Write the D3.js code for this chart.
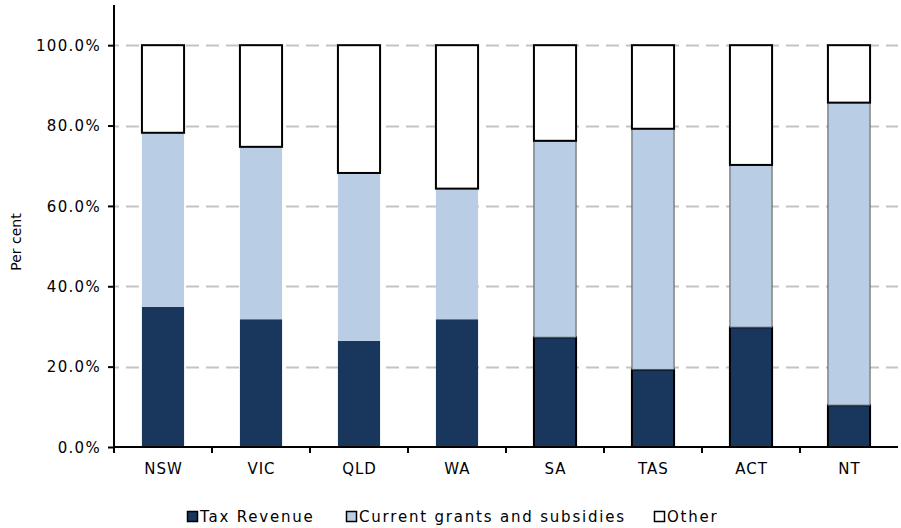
<!DOCTYPE html>
<html>
<head>
<meta charset="utf-8">
<script src="https://cdn.jsdelivr.net/npm/d3@7/dist/d3.min.js"></script>
<style>
  body { margin: 0; background: #fff; }
  svg text { font-family: "DejaVu Sans", Verdana, sans-serif; fill: #000; }
</style>
</head>
<body>
<svg class="chart" width="901" height="528"></svg>
<script>
// data (shares of revenue, per cent)
var states = ['NSW','VIC','QLD','WA','SA','TAS','ACT','NT'];
var taxRevenue = [34.9, 31.8, 26.4, 31.8, 27.3, 19.3, 29.8, 10.4];
var currentGrants = [43.3, 42.9, 41.8, 32.5, 48.9, 59.9, 40.4, 75.3];
var other = [21.8, 25.3, 31.8, 35.7, 23.8, 20.8, 29.8, 14.3];
var seriesNames = ['Tax Revenue', 'Current grants and subsidies', 'Other'];
var yTicks = [0, 20, 40, 60, 80, 100];

var colors = ['#19375d', '#b9cde4', '#ffffff'];
// the later bars are drawn with outlined segments in the original
var outlined = ['SA','TAS','ACT','NT'];

var margin = {top: 5, right: 3, bottom: 81, left: 114};
var svg = d3.select('.chart');
var width = 901 - margin.left - margin.right,
    height = 447 - margin.top;

var rows = states.map(function(s, i){
	return {name: s, tax: taxRevenue[i], grants: currentGrants[i], other: other[i]};
});
var keys = ['tax','grants','other'];
var stacked = d3.stack().keys(keys)(rows);

var x = d3.scaleBand().domain(states).range([0, 784]).paddingInner(0.57).paddingOuter(0.285);
var xb = d3.scaleBand().domain(states).range([0, 784]);
var y = d3.scaleLinear().domain([0, 110]).range([height, 0]);

var g = svg.append('g').attr('transform', 'translate(' + margin.left + ',' + margin.top + ')');

// grid
g.selectAll('.grid').data(yTicks.filter(function(d){ return d > 0; }))
	.enter().append('line')
	.attr('x1', 0).attr('x2', 784)
	.attr('y1', function(d){ return Math.round(y(d)) + 0.5; })
	.attr('y2', function(d){ return Math.round(y(d)) + 0.5; })
	.style('stroke', '#c4c4c4').style('stroke-width', 2)
	.style('stroke-dasharray', '13,7').attr('stroke-dashoffset', 8);

// bars
var layer = g.selectAll('.layer').data(stacked).enter().append('g').attr('class', 'layer');
layer.selectAll('rect').data(function(d){ return d.map(function(v){ v.key = d.key; return v; }); })
	.enter().append('rect')
	.attr('x', function(d){ return x(d.data.name); })
	.attr('width', x.bandwidth())
	.attr('y', function(d){ return y(d[1]); })
	.attr('height', function(d){ return y(d[0]) - y(d[1]); })
	.style('fill', function(d){ return colors[keys.indexOf(d.key)]; })
	.style('stroke', function(d){
		if (d.key === 'other') return '#000';
		if (outlined.indexOf(d.data.name) < 0) return 'none';
		return d.key === 'tax' ? '#000' : '#555';
	})
	.style('stroke-width', function(d){ return d.key === 'grants' ? 1 : 2; });

// y axis
var yAxis = d3.axisLeft(y).tickValues(yTicks).tickSize(6).tickPadding(7)
	.tickFormat(function(d){ return d.toFixed(1) + '%'; });
var ya = g.append('g').call(yAxis);
ya.select('.domain').remove();
ya.append('line').attr('x1', 0).attr('x2', 0).attr('y1', 0).attr('y2', height)
	.style('stroke', '#000').style('stroke-width', 2);
ya.selectAll('.tick line').style('stroke', '#000').style('stroke-width', 2);
ya.selectAll('.tick text').style('font-size', '15px').style('letter-spacing', '1.3px').attr('dy', '0.35em');

// x axis
var xa = g.append('g').attr('transform', 'translate(0,' + height + ')');
xa.append('line').attr('x1', 0).attr('x2', 784).style('stroke', '#000').style('stroke-width', 2);
xa.selectAll('.xt').data(states).enter().append('line')
	.attr('x1', function(d){ return xb(d); }).attr('x2', function(d){ return xb(d); })
	.attr('y1', 0).attr('y2', 6).style('stroke', '#000').style('stroke-width', 2);
xa.selectAll('.xl').data(states).enter().append('text')
	.attr('x', function(d){ return xb(d) + xb.bandwidth() / 2 + 0.5; })
	.attr('y', 27).attr('text-anchor', 'middle').style('font-size', '15px')
	.style('letter-spacing', '1px')
	.text(function(d){ return d; });

// y title
svg.append('text').attr('transform', 'translate(21,242) rotate(-90)')
	.attr('text-anchor', 'middle').style('font-size', '14px').text('Per cent');

// legend
var legendX = [187, 346, 654];
var lg = svg.selectAll('.legend').data(seriesNames).enter().append('g')
	.attr('transform', function(d, i){ return 'translate(' + legendX[i] + ',517)'; });
lg.append('rect').attr('x', 0.5).attr('y', -5.5).attr('width', 10).attr('height', 10)
	.style('fill', function(d, i){ return colors[i]; })
	.style('stroke', '#000').style('stroke-width', 1.5);
lg.append('text').attr('x', 13).attr('dy', '0.35em').style('font-size', '15px')
	.style('letter-spacing', '1.8px').text(function(d){ return d; });
</script>
</body>
</html>
